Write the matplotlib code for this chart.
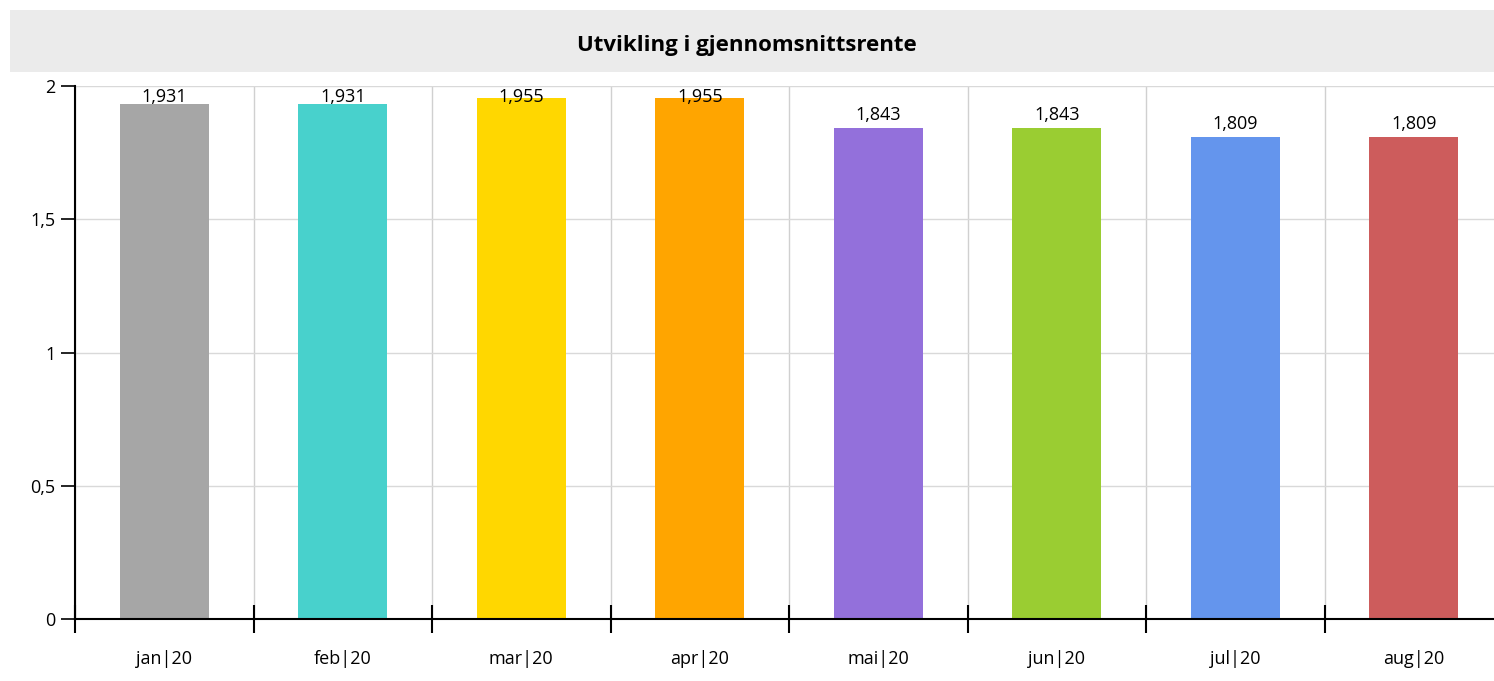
import matplotlib.pyplot as plt
from matplotlib.patches import Rectangle
import numpy as np

months = ["jan|20", "feb|20", "mar|20", "apr|20", "mai|20", "jun|20", "jul|20", "aug|20"]
rente = [1.931, 1.931, 1.955, 1.955, 1.843, 1.843, 1.809, 1.809]
colors = ["#a6a6a6", "#48d1cc", "#ffd700", "#ffa500", "#9370db", "#9acd32", "#6495ed", "#cd5c5c"]
yticks = [0, 0.5, 1, 1.5, 2]
ylabels = ["0", "0,5", "1", "1,5", "2"]

plt.rcParams['font.family'] = ['Open Sans', 'DejaVu Sans']

fig = plt.figure(figsize=(14.94, 6.81), dpi=100)
# title band
fig.patches.append(Rectangle((10/1494, 1 - 72/681), 1, 62/681, transform=fig.transFigure,
                             facecolor="#ebebeb", edgecolor="none", zorder=0))
fig.text(0.5, 1 - 45/681, "Utvikling i gjennomsnittsrente", ha="center", va="center",
         fontsize=16, fontweight="bold")

ax = fig.add_axes([75/1494, 62/681, 1428/1494, 533/681])
x = np.arange(len(months))
ax.bar(x, rente, width=0.5, color=colors, zorder=2)
# labels sit above bars but are kept inside the plot area
for xi, v in zip(x, rente):
    ax.text(xi, min(v + 0.048, 1.957), f"{v:.3f}".replace(".", ","), ha="center",
            va="center", fontsize=13, zorder=3)

ax.set_xlim(-0.5, len(months) - 0.5)
ax.set_ylim(0, 2)
ax.set_yticks(yticks)
ax.set_yticklabels(ylabels, fontsize=13)
ax.set_xticks(x)
ax.set_xticklabels(months, fontsize=13)
ax.tick_params(axis="x", length=0, pad=22)
ax.set_xticks(np.arange(-0.5, len(months)), minor=True)
ax.tick_params(axis="x", which="minor", direction="inout", length=20, width=1.5)
ax.tick_params(axis="y", direction="out", length=10, width=1.2, pad=4)

ax.grid(axis="x", which="minor", color="#d0d0d0", lw=1, zorder=0)
ax.grid(axis="y", which="major", color="#d9d9d9", lw=1, zorder=0)
for s in ["top", "right"]:
    ax.spines[s].set_visible(False)
ax.spines["left"].set_linewidth(1.5)
ax.spines["bottom"].set_linewidth(1.5)

fig.savefig("out.png", dpi=100)
